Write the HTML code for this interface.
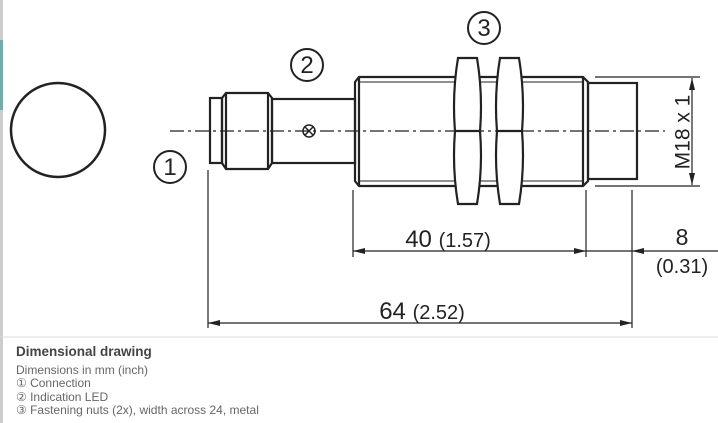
<!DOCTYPE html>
<html><head><style>
body{margin:0;width:718px;height:423px;background:#fff;overflow:hidden;position:relative;font-family:"Liberation Sans",sans-serif}
.t{position:absolute;left:16px;color:#666;font-size:12px;line-height:13.3px}
</style></head><body>
<div style="position:absolute;left:0;top:0;width:3px;height:423px;background:#ccc"></div>
<div style="position:absolute;left:0;top:40px;width:3px;height:70px;background:#7aa"></div>
<svg width="718" height="423" style="position:absolute;left:0;top:0" font-family="Liberation Sans, sans-serif">
<defs><marker id="a" viewBox="0 0 12 6" refX="12" refY="3" markerWidth="12" markerHeight="6" orient="auto-start-reverse" markerUnits="userSpaceOnUse"><path d="M0,0L12,3L0,6z" fill="#222"/></marker></defs>
<g fill="none" stroke="#222" stroke-width="2.2">
<circle cx="58" cy="130" r="47" stroke-width="2.5"/>
<rect x="210" y="98" width="12" height="65"/>
<path d="M222,98 l4,-5 h42 l4,5 v65 l-4,6 h-42 l-4,-6z"/>
<line x1="226" y1="93" x2="226" y2="169"/><line x1="268" y1="93" x2="268" y2="169"/>
<rect x="272" y="99" width="83" height="64"/>
<path d="M355,82 l4,-5 h224 l5,5 v99 l-5,5 h-224 l-4,-5z"/>
<line x1="359" y1="77" x2="359" y2="186"/><line x1="583" y1="77" x2="583" y2="186"/>
<line x1="359" y1="82" x2="583" y2="82" stroke-width="1"/><line x1="359" y1="181" x2="583" y2="181" stroke-width="1"/>
<rect x="588" y="83" width="49" height="96"/>
<path d="M458,58 h19 q6,36 3,73 q3,37 -3,73 h-19 q-6,-36 -3,-73 q-3,-37 3,-73z" fill="#fff"/>
<line x1="455" y1="131" x2="480" y2="131"/>
<path d="M500,58 h19 q6,36 3,73 q3,37 -3,73 h-19 q-6,-36 -3,-73 q-3,-37 3,-73z" fill="#fff"/>
<line x1="497" y1="131" x2="522" y2="131"/>
<circle cx="309" cy="131" r="6" stroke-width="1.5"/>
<path d="M305,127l8,8M313,127l-8,8" stroke-width="1.5"/>
</g>
<line x1="170" y1="131" x2="665" y2="131" stroke="#222" stroke-width="1.3" stroke-dasharray="14,4,3,4"/>
<g stroke="#222" stroke-width="1.2" fill="none">
<line x1="595" y1="77" x2="700" y2="77"/><line x1="595" y1="186" x2="700" y2="186"/>
<line x1="692" y1="78" x2="692" y2="185" marker-start="url(#a)" marker-end="url(#a)"/>
<line x1="208" y1="170" x2="208" y2="328"/>
<line x1="353" y1="190" x2="353" y2="257"/>
<line x1="586" y1="190" x2="586" y2="257"/>
<line x1="632" y1="190" x2="632" y2="328"/>
<line x1="353" y1="251" x2="586" y2="251" marker-start="url(#a)" marker-end="url(#a)"/>
<line x1="718" y1="251" x2="632" y2="251" marker-end="url(#a)"/>
<line x1="586" y1="251" x2="632" y2="251"/>
<line x1="208" y1="323" x2="632" y2="323" marker-start="url(#a)" marker-end="url(#a)"/>
</g>
<line x1="0" y1="337" x2="718" y2="337" stroke="#ddd" stroke-width="1"/>
<g fill="#222">
<text x="684" y="132" font-size="21" text-anchor="middle" transform="rotate(-90 684 132)" dominant-baseline="middle">M18 x 1</text>
<text x="448" y="247" font-size="24" text-anchor="middle">40 <tspan font-size="20">(1.57)</tspan></text>
<text x="682" y="245" font-size="23" text-anchor="middle">8</text>
<text x="682" y="273" font-size="20" text-anchor="middle">(0.31)</text>
<text x="422" y="319" font-size="24" text-anchor="middle">64 <tspan font-size="20">(2.52)</tspan></text>
</g>
<g fill="none" stroke="#222" stroke-width="2">
<circle cx="307" cy="65" r="16"/><circle cx="484" cy="28" r="16"/><circle cx="170" cy="167" r="16"/>
</g>
<g fill="#222" font-size="24" text-anchor="middle">
<text x="307" y="73">2</text><text x="484" y="36">3</text><text x="170" y="175">1</text>
</g>
</svg>
<div style="position:absolute;left:16px;top:344px;font-size:13.5px;font-weight:bold;color:#444">Dimensional drawing</div>
<div class="t" style="top:364px">Dimensions in mm (inch)<br>① Connection<br>② Indication LED<br>③ Fastening nuts (2x), width across 24, metal</div>
</body></html>
